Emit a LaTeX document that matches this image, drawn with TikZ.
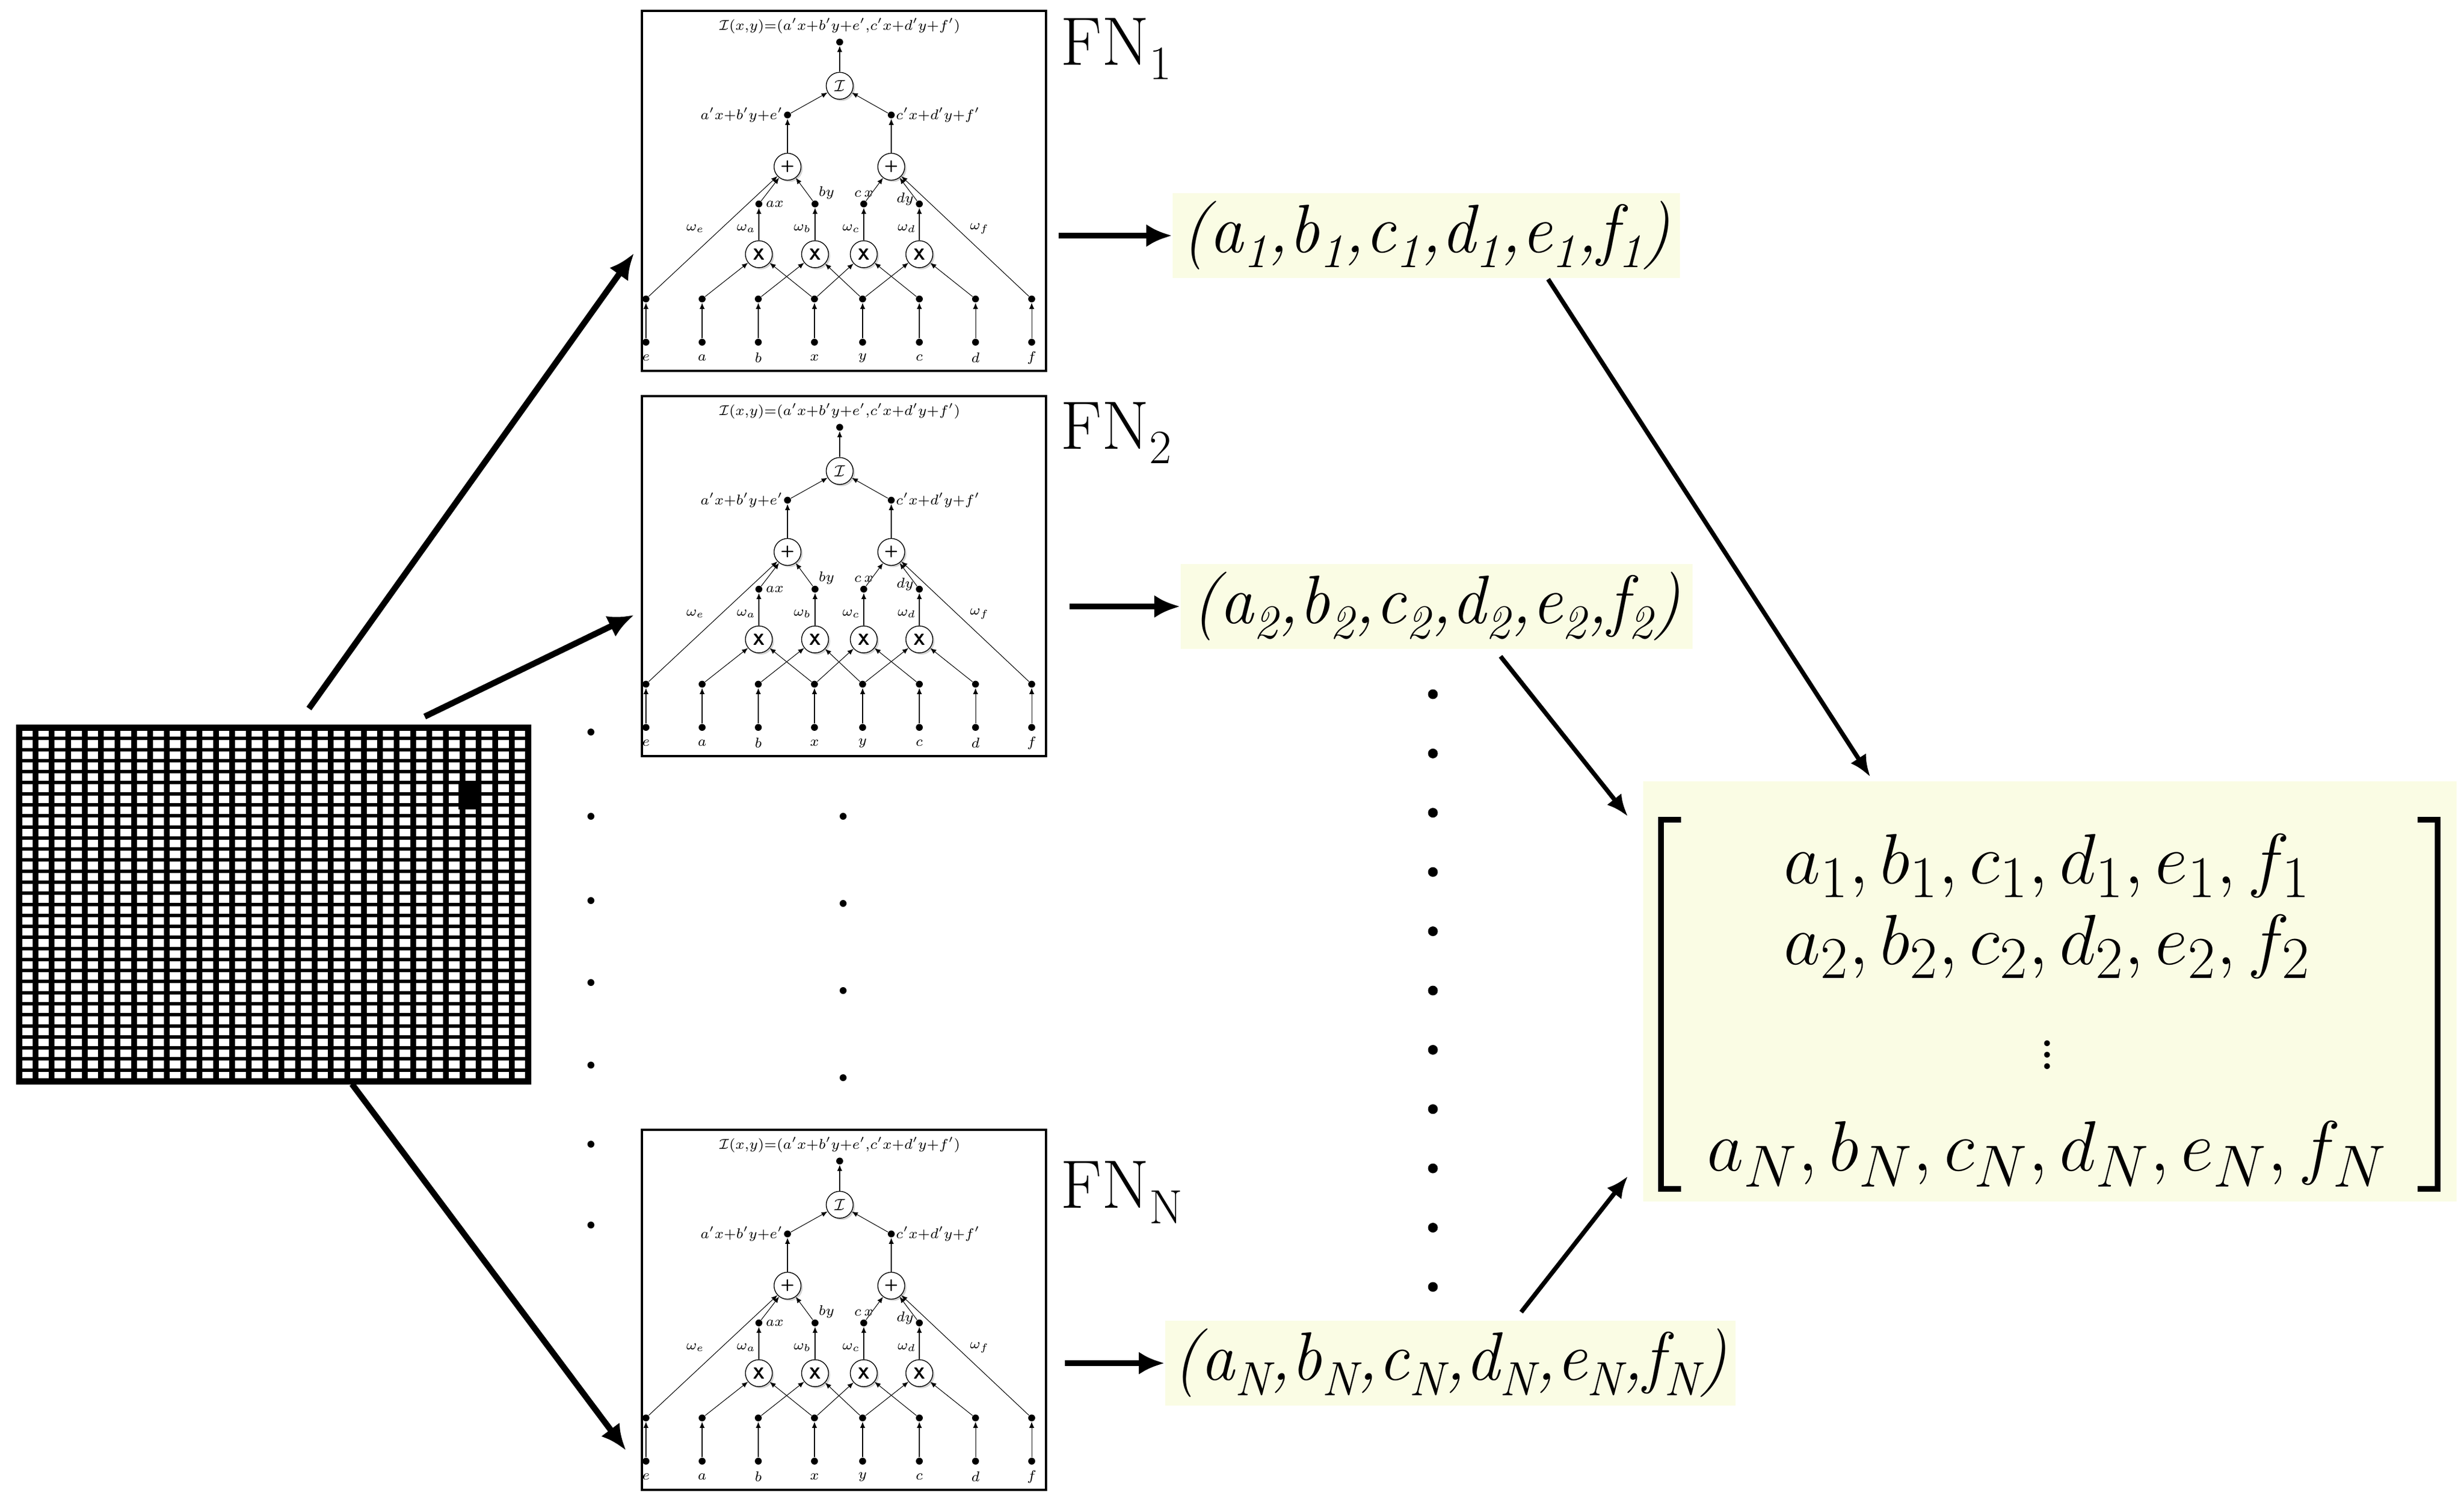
\documentclass[tikz,border=0pt]{standalone}
\usepackage{amsmath}
\usepackage{graphicx}
\usetikzlibrary{arrows.meta,shadows,calc,shapes.geometric}
\definecolor{hlyellow}{RGB}{250,252,228}
\begin{document}
\begin{tikzpicture}[
    fnbox/.style={rectangle, draw, line width=1.2pt, minimum width=7.05cm, minimum height=6.28cm, inner sep=0pt},
    dot/.style={circle, fill, inner sep=0pt, minimum size=0.12cm},
    bigdot/.style={circle, fill, inner sep=0pt, minimum size=0.17cm},
    op/.style={ellipse, draw, fill=white, line width=0.4pt, minimum width=0.47cm, minimum height=0.47cm, inner sep=0pt, font=\sffamily\bfseries\footnotesize, drop shadow={opacity=0.35, shadow xshift=0.03cm, shadow yshift=-0.03cm}},
    nettext/.style={inner sep=1pt, font=\fontsize{7}{8}\selectfont},
    netarrow/.style={-{Latex[length=3pt,width=2.5pt]}, line width=0.3pt},
    fnlabel/.style={anchor=west, inner sep=0pt, font=\fontsize{34}{40}\selectfont},
    tuple/.style={fill=hlyellow, inner sep=4pt, font=\fontsize{34}{40}\selectfont\itshape},
    bigarrow/.style={-{Latex[length=0.45cm,width=0.4cm]}, line width=3pt},
    midarrow/.style={-{Latex[length=0.38cm,width=0.32cm]}, line width=2.2pt},
    row/.style={inner sep=0pt, font=\Huge}
]
\useasboundingbox (0,0) rectangle (42.99,-26.14);

% Bild
\foreach \i in {0,...,31}
  \draw[line width=0.1cm] ({0.33+\i*0.2865},-12.69) -- ({0.33+\i*0.2865},-18.86);
\foreach \j in {0,...,32}
  \draw[line width=0.06cm] (0.33,{-12.69-\j*0.1928}) -- (9.21,{-12.69-\j*0.1928});
\draw[line width=0.11cm] (0.33,-12.69) rectangle (9.21,-18.86);
\fill (8.0,-13.62) rectangle (8.32,-14.12);

% Netze
\foreach \b/\y in {A/0.19, B/6.91, C/19.71} {
  \node[fnbox] (\b) at (14.725,{-\y-3.14}) {};
  \begin{scope}[shift={(11.20,-\y)}, yscale=0.877]
    \node[nettext] (\b-t) at (3.45,-0.30) {$\mathcal{I}(x{,}y)$=$(a'x$+$b'y$+$e'{,}c'x$+$d'y$+$f')$};
    % Eingaenge
    \foreach \n/\x in {e/0.07, a/1.05, b/2.03, x/3.01, y/3.85, c/4.84, d/5.82, f/6.80} {
      \node[dot] (\b-\n0) at (\x,-6.59) {};
      \node[dot] (\b-\n1) at (\x,-5.73) {};
      \node[nettext] at (\x,-6.90) {$\n$};
      \draw[netarrow] (\b-\n0) -- (\b-\n1);
    }
    % Multiplikation
    \foreach \m/\x/\p/\q/\w in {1/2.04/a/x/a, 2/3.02/b/y/b, 3/3.87/x/c/c, 4/4.84/y/d/d} {
      \node[op] (\b-m\m) at (\x,-4.84) {X};
      \node[dot] (\b-o\m) at (\x,-3.84) {};
      \node[nettext] at ($(\x,-4.33)+(-0.22,0)$) {$\omega_{\w}$};
      \draw[netarrow] (\b-\p1) -- (\b-m\m);
      \draw[netarrow] (\b-\q1) -- (\b-m\m);
      \draw[netarrow] (\b-m\m) -- (\b-o\m);
    }
    \node[nettext, anchor=west] at ($(\b-o1)+(0.08,0)$) {$ax$};
    \node[nettext] at ($(\b-o2)+(0.2,0.22)$) {$by$};
    \node[nettext] at ($(\b-o3)+(0,0.2)$) {$c\,x$};
    \node[nettext] at ($(\b-o4)+(-0.25,0.1)$) {$dy$};
    \node[nettext] at (0.93,-4.33) {$\omega_e$};
    \node[nettext] at (5.89,-4.33) {$\omega_f$};
    % Summe
    \node[op] (\b-p1) at (2.54,-3.10) {+};
    \node[op] (\b-p2) at (4.35,-3.10) {+};
    \node[dot] (\b-s1) at (2.54,-2.07) {};
    \node[dot] (\b-s2) at (4.35,-2.07) {};
    \draw[netarrow] (\b-o1) -- (\b-p1);
    \draw[netarrow] (\b-o2) -- (\b-p1);
    \draw[netarrow] (\b-o3) -- (\b-p2);
    \draw[netarrow] (\b-o4) -- (\b-p2);
    \draw[netarrow] (\b-e1) -- (\b-p1);
    \draw[netarrow] (\b-f1) -- (\b-p2);
    \draw[netarrow] (\b-p1) -- (\b-s1);
    \draw[netarrow] (\b-p2) -- (\b-s2);
    \node[nettext, anchor=east] at ($(\b-s1)+(-0.04,0)$) {$a'x$+$b'y$+$e'$};
    \node[nettext, anchor=west] at ($(\b-s2)+(0.04,0)$) {$c'x$+$d'y$+$f'$};
    % Ausgabe
    \node[op] (\b-i) at (3.45,-1.49) {$\mathcal{I}$};
    \node[dot] (\b-top) at (3.45,-0.62) {};
    \draw[netarrow] (\b-s1) -- (\b-i);
    \draw[netarrow] (\b-s2) -- (\b-i);
    \draw[netarrow] (\b-i) -- (\b-top);
  \end{scope}
}

\node[fnlabel] (labA) at (18.5,-0.85) {FN\textsubscript{1}};
\node[fnlabel] (labB) at (18.5,-7.55) {FN\textsubscript{2}};
\node[fnlabel] (labC) at (18.5,-20.8) {FN\textsubscript{N}};

% Parameter
\node[tuple, minimum width=8.85cm, minimum height=1.3cm] (t1) at (24.88,-4.11) {(a\textsubscript{1},b\textsubscript{1},c\textsubscript{1},d\textsubscript{1},e\textsubscript{1},f\textsubscript{1})};
\node[tuple, minimum width=8.93cm, minimum height=1.35cm] (t2) at (25.06,-10.58) {(a\textsubscript{2},b\textsubscript{2},c\textsubscript{2},d\textsubscript{2},e\textsubscript{2},f\textsubscript{2})};
\node[tuple, minimum width=9.4cm, minimum height=1.38cm] (tN) at (25.3,-23.78) {(a\textsubscript{N},b\textsubscript{N},c\textsubscript{N},d\textsubscript{N},e\textsubscript{N},f\textsubscript{N})};

% Matrix
\node[fill=hlyellow, minimum width=14.19cm, minimum height=7.33cm] (mat) at (35.765,-17.295) {};
\draw[line width=3pt] (29.33,-14.30) -- (28.98,-14.30) -- (28.98,-20.74) -- (29.33,-20.74);
\draw[line width=3pt] (42.18,-14.30) -- (42.53,-14.30) -- (42.53,-20.74) -- (42.18,-20.74);
\node[row] (r1) at (35.72,-15.10) {\scalebox{1.42}{$a_1, b_1, c_1, d_1, e_1, f_1$}};
\node[row] (r2) at (35.72,-16.51) {\scalebox{1.42}{$a_2, b_2, c_2, d_2, e_2, f_2$}};
\node[row] (r3) at (35.72,-18.25) {\scalebox{1.42}{$\vdots$}};
\node[row] (rN) at (35.72,-20.13) {\scalebox{1.42}{$a_N, b_N, c_N, d_N, e_N, f_N$}};

% Punkte
\foreach \y [count=\k] in {12.77,14.24,15.71,17.14,18.58,19.96,21.37}
  \node[dot] (pl\k) at (10.31,-\y) {};
\foreach \y [count=\k] in {14.24,15.76,17.28,18.80}
  \node[dot] (pm\k) at (14.71,-\y) {};
\foreach \k in {0,...,10}
  \node[bigdot] (pr\k) at (25.0,{-12.11-\k*1.034}) {};

% Pfeile
\coordinate (g1) at (5.39,-12.36);
\coordinate (g2) at (7.41,-12.50);
\coordinate (g3) at (6.14,-18.91);
\coordinate (e1) at (11.06,-4.42);
\coordinate (e2) at (11.06,-10.73);
\coordinate (e3) at (10.92,-25.30);
\draw[bigarrow] (g1) -- (e1);
\draw[bigarrow] (g2) -- (e2);
\draw[bigarrow] (g3) -- (e3);

\coordinate (f1) at (18.47,-4.11);
\coordinate (f2) at (18.66,-10.58);
\coordinate (f3) at (18.58,-23.78);
\draw[bigarrow] (f1) -- (t1.west);
\draw[bigarrow] (f2) -- (t2.west);
\draw[bigarrow] (f3) -- (tN.west);

\coordinate (u1) at (27.01,-4.87);
\coordinate (u2) at (26.18,-11.45);
\coordinate (u3) at (26.54,-22.89);
\coordinate (m1) at (32.63,-13.55);
\coordinate (m2) at (28.40,-14.24);
\coordinate (m3) at (28.40,-20.52);
\draw[midarrow] (u1) -- (m1);
\draw[midarrow] (u2) -- (m2);
\draw[midarrow] (u3) -- (m3);
\end{tikzpicture}
\end{document}
